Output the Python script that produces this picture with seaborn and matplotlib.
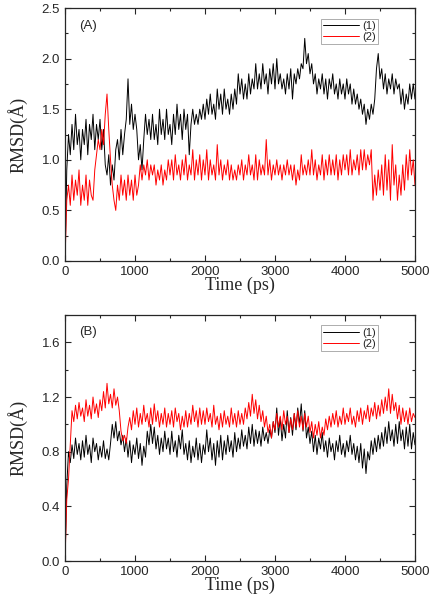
import matplotlib
matplotlib.use("Agg")
import matplotlib.pyplot as plt
import pandas as pd
import seaborn as sns
from matplotlib.ticker import AutoMinorLocator, MultipleLocator

# time axis (ps), one sample every 25 ps
time_ps = list(range(0, 5001, 25))

# panel A (each row = 250 ps)
rmsd_a1 = [
    0.0, 0.9, 1.25, 1.05, 1.35, 1.1, 1.45, 1.15, 1.3, 1.0,
    1.3, 1.15, 1.4, 1.05, 1.35, 1.2, 1.45, 1.1, 1.35, 1.2,
    1.4, 1.1, 1.3, 0.95, 0.85, 1.05, 0.75, 0.95, 0.8, 1.1,
    1.2, 1.0, 1.3, 1.05, 1.25, 1.4, 1.8, 1.35, 1.55, 1.3,
    1.45, 1.3, 1.0, 1.15, 0.9, 1.2, 1.45, 1.25, 1.4, 1.2,
    1.45, 1.2, 1.35, 1.15, 1.5, 1.25, 1.4, 1.2, 1.5, 1.25,
    1.35, 1.15, 1.45, 1.25, 1.55, 1.3, 1.45, 1.2, 1.5, 1.3,
    1.45, 1.05, 1.35, 1.5, 1.35, 1.45, 1.35, 1.5, 1.4, 1.55,
    1.4, 1.6, 1.45, 1.65, 1.45, 1.55, 1.4, 1.7, 1.5, 1.65,
    1.45, 1.7, 1.5, 1.6, 1.45, 1.65, 1.5, 1.7, 1.55, 1.85,
    1.65, 1.8, 1.6, 1.75, 1.6, 1.85, 1.65, 1.8, 1.7, 1.95,
    1.7, 1.85, 1.7, 1.95, 1.75, 1.85, 1.65, 1.9, 1.75, 1.95,
    1.7, 2.0, 1.75, 1.85, 1.7, 1.8, 1.65, 1.85, 1.7, 1.9,
    1.6, 1.85, 1.75, 1.9, 1.8, 1.95, 1.9, 2.2, 1.95, 2.05,
    1.85, 1.95, 1.75, 1.85, 1.65, 1.8, 1.7, 1.85, 1.65, 1.8,
    1.6, 1.8, 1.7, 1.85, 1.65, 1.75, 1.6, 1.8, 1.65, 1.75,
    1.6, 1.8, 1.65, 1.75, 1.55, 1.7, 1.55, 1.65, 1.5, 1.6,
    1.45, 1.55, 1.35, 1.5, 1.4, 1.55, 1.45, 1.6, 1.9, 2.05,
    1.8, 1.9, 1.7, 1.85, 1.65, 1.8, 1.7, 1.85, 1.65, 1.8,
    1.7, 1.75, 1.55, 1.7, 1.5, 1.65, 1.55, 1.75, 1.6, 1.75,
    1.6,
]
rmsd_a2 = [
    0.0, 0.6, 0.75, 0.55, 0.85, 0.6, 0.8, 0.65, 0.9, 0.55,
    0.75, 0.6, 0.85, 0.55, 0.8, 0.65, 0.6, 0.9, 1.05, 1.2,
    1.1, 1.3, 1.15, 1.45, 1.65, 1.3, 1.0, 0.75, 0.6, 0.5,
    0.75, 0.6, 0.85, 0.65, 0.8, 0.6, 0.85, 0.65, 0.8, 0.6,
    0.85, 0.65, 0.75, 0.95, 0.8, 0.95, 0.85, 1.0, 0.8, 0.95,
    0.85, 0.95, 0.75, 0.9, 0.8, 0.95, 0.75, 0.9, 0.8, 1.0,
    0.85, 1.0, 0.8, 1.05, 0.85, 0.95, 0.8, 1.0, 0.85, 1.05,
    0.8, 0.95, 0.85, 1.1, 0.8, 1.0, 0.85, 1.05, 0.8, 1.0,
    0.85, 1.1, 0.8, 1.0, 0.85, 0.95, 0.8, 1.15, 0.85, 1.0,
    0.8, 0.95, 0.85, 1.0, 0.8, 0.95, 0.8, 0.9, 0.8, 0.95,
    0.85, 1.0, 0.8, 0.95, 0.85, 1.05, 0.85, 0.95, 0.8, 1.05,
    0.8, 1.0, 0.85, 0.95, 0.85, 1.2, 0.85, 1.0, 0.8, 0.95,
    0.85, 1.0, 0.85, 0.95, 0.8, 0.95, 0.85, 1.0, 0.85, 0.95,
    0.8, 0.95, 0.75, 0.9, 0.8, 1.05, 0.85, 0.95, 0.85, 1.0,
    0.85, 1.1, 0.85, 1.0, 0.8, 0.95, 0.85, 1.05, 0.8, 1.0,
    0.85, 1.05, 0.85, 1.0, 0.85, 1.05, 0.8, 1.0, 0.85, 1.05,
    0.9, 1.05, 0.85, 1.1, 0.85, 1.0, 0.9, 1.05, 0.85, 1.1,
    0.9, 1.1, 0.9, 1.05, 0.95, 1.1, 0.6, 0.85, 0.65, 0.9,
    0.7, 0.95, 0.65, 1.05, 0.7, 1.0, 0.6, 1.15, 0.75, 0.95,
    0.6, 0.85, 0.65, 0.95, 0.7, 1.05, 0.8, 1.1, 0.85, 1.0,
    0.75,
]

# panel B
rmsd_b1 = [
    0.0, 0.55, 0.8, 0.72, 0.85, 0.75, 0.9, 0.78, 0.86, 0.74,
    0.88, 0.76, 0.92, 0.78, 0.85, 0.72, 0.9, 0.8, 0.86, 0.74,
    0.84, 0.76, 0.88, 0.75, 0.82, 0.74, 0.86, 1.0, 0.9, 1.02,
    0.88, 0.95, 0.85, 0.92, 0.8, 0.9, 0.76, 0.88, 0.72, 0.85,
    0.78, 0.9, 0.75, 0.86, 0.7, 0.84, 0.76, 0.95, 0.85, 1.0,
    0.86, 0.98, 0.82, 0.92, 0.78, 0.9, 0.8, 0.95, 0.82, 0.9,
    0.78, 0.95, 0.8, 0.88, 0.76, 0.92, 0.82, 0.96, 0.78, 0.86,
    0.74, 0.88, 0.72, 0.84, 0.76, 0.9, 0.74, 0.86, 0.72, 0.85,
    0.78, 0.96, 0.8, 0.9, 0.74, 0.86, 0.7, 0.88, 0.76, 0.92,
    0.74, 0.88, 0.78, 0.92, 0.8, 0.88, 0.76, 0.94, 0.8, 0.9,
    0.82, 0.96, 0.84, 0.92, 0.82, 0.98, 0.86, 1.0, 0.84, 0.96,
    0.86, 0.95, 0.84, 0.98, 0.88, 0.94, 0.86, 0.96, 0.9, 1.02,
    0.94, 1.12, 0.92, 1.05, 0.88, 1.0, 0.9, 1.1, 0.94, 1.05,
    0.92, 1.08, 0.96, 1.12, 1.0, 1.15, 0.95, 1.1, 0.9, 0.98,
    0.86, 0.95, 0.8, 0.92, 0.78, 0.9, 0.82, 0.94, 0.8, 0.88,
    0.76, 0.9, 0.8, 0.86, 0.74, 0.88, 0.8, 0.92, 0.78, 0.86,
    0.76, 0.88, 0.8, 0.92, 0.78, 0.86, 0.74, 0.84, 0.72, 0.86,
    0.68, 0.82, 0.64, 0.8, 0.74, 0.88, 0.78, 0.9, 0.8, 0.92,
    0.82, 0.94, 0.84, 0.98, 0.86, 1.02, 0.88, 0.96, 0.84, 1.0,
    0.86, 1.02, 0.88, 0.96, 0.82, 0.98, 0.84, 1.0, 0.82, 0.94,
    0.85,
]
rmsd_b2 = [
    0.0, 0.45, 0.6, 0.85, 1.1, 1.02, 1.14, 1.04, 1.16, 1.06,
    1.12, 1.02, 1.18, 1.06, 1.14, 1.04, 1.2, 1.08, 1.15, 1.05,
    1.18, 1.1, 1.24, 1.12, 1.3, 1.15, 1.22, 1.12, 1.26, 1.14,
    1.2, 1.1, 0.95, 0.88, 0.92, 0.86, 0.98, 1.05, 0.96, 1.1,
    1.0, 1.12, 0.98, 1.08, 1.0, 1.14, 1.02, 1.08, 0.98, 1.12,
    1.0, 1.15, 1.02, 1.1, 0.98, 1.08, 1.0, 1.12, 0.98, 1.08,
    1.0, 1.1, 0.98, 1.12, 1.02, 1.08, 0.96, 1.06, 0.98, 1.1,
    0.98, 1.08, 1.0, 1.14, 1.02, 1.1, 0.98, 1.12, 1.0, 1.1,
    1.0, 1.12, 1.02, 1.08, 0.98, 1.14, 1.0, 1.06, 0.96, 1.08,
    0.98, 1.1, 1.0, 1.06, 0.98, 1.12, 1.0, 1.08, 0.98, 1.1,
    1.0, 1.08, 1.0, 1.12, 1.04, 1.16, 1.06, 1.22, 1.08, 1.18,
    1.04, 1.14, 1.02, 1.1, 0.98, 1.06, 0.94, 1.0, 0.9, 1.02,
    0.96, 1.08, 0.98, 1.06, 0.96, 1.1, 1.0, 1.06, 0.94, 1.04,
    0.96, 1.08, 0.98, 1.1, 0.98, 1.06, 0.96, 1.08, 0.98, 1.06,
    0.94, 1.02, 0.9, 1.0, 0.92, 1.02, 0.9, 0.98, 0.92, 1.04,
    0.96, 1.06, 0.98, 1.08, 1.0, 1.1, 0.98, 1.06, 1.0, 1.12,
    1.0, 1.08, 1.02, 1.12, 1.0, 1.06, 0.98, 1.1, 1.02, 1.12,
    1.0, 1.1, 1.04, 1.14, 1.02, 1.12, 1.06, 1.16, 1.04, 1.14,
    1.06, 1.18, 1.08, 1.2, 1.1, 1.26, 1.08, 1.22, 1.1, 1.16,
    1.04, 1.14, 1.0, 1.12, 1.02, 1.1, 1.0, 1.12, 1.02, 1.08,
    1.05,
]

series_labels = ["(1)", "(2)"]
series_colors = ["black", "red"]

sns.set_style("ticks")
plt.rcParams["font.family"] = ["Liberation Sans", "DejaVu Sans"]

fig = plt.figure(figsize=(4.32, 5.99), dpi=100)
ax_a = fig.add_axes([0.1505, 0.5643, 0.8101, 0.4223])
ax_b = fig.add_axes([0.1505, 0.0634, 0.8101, 0.4107])

panels = [
    (ax_a, rmsd_a1, rmsd_a2, "(A)", 2.5, 0.5),
    (ax_b, rmsd_b1, rmsd_b2, "(B)", 1.8, 0.4),
]

for ax, s1, s2, tag, ymax, ystep in panels:
    df = pd.DataFrame({
        "time": time_ps * 2,
        "rmsd": s1 + s2,
        "series": [series_labels[0]] * len(s1) + [series_labels[1]] * len(s2),
    })
    sns.lineplot(data=df, x="time", y="rmsd", hue="series",
                 palette=series_colors, linewidth=0.7, ax=ax, legend=True)
    ax.set_xlim(0, 5000)
    ax.set_ylim(0, ymax)
    ax.xaxis.set_major_locator(MultipleLocator(1000))
    ax.yaxis.set_major_locator(MultipleLocator(ystep))
    ax.xaxis.set_minor_locator(AutoMinorLocator(2))
    ax.yaxis.set_minor_locator(AutoMinorLocator(2))
    ax.tick_params(which="both", direction="in", top=True, right=True,
                   labelsize=9.5, width=0.8)
    ax.tick_params(which="major", length=4)
    ax.tick_params(which="minor", length=2.5)
    for sp in ax.spines.values():
        sp.set_linewidth(0.9)
    ax.set_xlabel("Time (ps)", family="Liberation Serif", fontsize=13, labelpad=-1)
    ax.set_ylabel("RMSD(Å)", family="Liberation Serif", fontsize=13, labelpad=10)
    ax.text(0.04, 0.93, tag, transform=ax.transAxes, fontsize=9.5, va="center")
    leg = ax.legend(loc="upper right", bbox_to_anchor=(0.91, 0.98), fontsize=8,
                    frameon=True, fancybox=False, handlelength=3.2,
                    borderpad=0.2, labelspacing=0.1, handletextpad=0.3)
    leg.get_frame().set_edgecolor("#888888")
    leg.get_frame().set_linewidth(0.6)
    leg.set_title(None)

fig.savefig("out.png", dpi=100)
